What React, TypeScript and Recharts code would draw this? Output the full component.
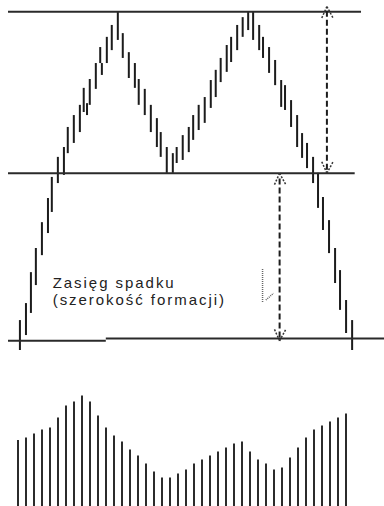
import React from 'react';
import { ComposedChart, BarChart, Bar, XAxis, YAxis, ReferenceLine, ReferenceDot } from 'recharts';

// time position of each price bar (trading sessions)
const priceTime = [0, 1.1, 2, 2.9, 4, 5.1, 5.8, 6.9, 8, 8.7, 9.8, 10.9, 11.6, 12.2, 12.7, 13.8, 14.6, 14.9, 15.8, 16.7, 17.8, 18.7, 19.8, 20.9, 21.6, 22.7, 23.8, 24.9, 25.6, 26.7, 27.8, 28.5, 29.6, 30.7, 31.5, 32.5, 33.6, 34.7, 35.6, 36.5, 37.6, 38.4, 39.5, 40.5, 41.5, 42.4, 43.5, 44.2, 45.3, 46.4, 47.5, 48.2, 49.3, 50.4, 51.3, 52.2, 53.3, 54.2, 55.1, 56.2, 57.3, 58.2, 59.3, 60.4];
const priceLow = [0, 4.4, 10.9, 19.1, 27.9, 34.4, 40.6, 49.1, 51.5, 57.9, 60.9, 64.1, 70.0, 69.1, 72.1, 76.8, 84.4, 80.9, 84.4, 88.2, 91.2, 85.9, 80.0, 77.1, 72.1, 69.1, 64.1, 59.7, 56.8, 52.1, 52.1, 55.0, 55.9, 58.2, 61.8, 64.7, 66.8, 71.2, 74.4, 78.8, 81.8, 84.7, 88.2, 92.1, 94.1, 91.2, 88.2, 85.9, 81.5, 77.9, 71.5, 70.6, 65.6, 59.7, 56.5, 53.5, 49.1, 41.8, 35.3, 28.5, 19.7, 11.8, 5.0, 0];
const priceHigh = [8.8, 13.8, 22.9, 30.0, 37.6, 44.7, 50.9, 56.8, 59.7, 65.6, 69.1, 72.1, 77.1, 72.6, 79.7, 84.4, 89.1, 84.4, 92.1, 95.6, 99.4, 93.2, 87.6, 84.4, 79.7, 76.8, 72.1, 68.2, 64.1, 59.7, 57.9, 59.7, 63.2, 65.6, 69.1, 72.1, 74.4, 79.4, 82.4, 85.9, 89.7, 92.1, 95.6, 97.9, 99.4, 99.4, 95.6, 92.1, 89.1, 85.3, 79.4, 77.9, 73.5, 69.1, 63.8, 60.9, 56.8, 52.1, 45.0, 38.2, 30.0, 23.5, 14.7, 8.8];

// volume histogram
const volume = [33, 34.2, 36.3, 38.2, 39.2, 44.2, 50.2, 52.2, 55.2, 52.2, 45.3, 39.2, 35.2, 32.2, 28.2, 25.2, 21.2, 17.2, 14.2, 14.2, 16.2, 18.2, 21.2, 23.2, 25.2, 27.2, 29.2, 31.2, 32.2, 27.2, 23.2, 21.2, 18.2, 19.2, 24.2, 29.2, 34.2, 38.2, 40.2, 42.2, 44.2, 46.2];

// horizontal levels: [level, startTime, endTime]
const resistance = [99.5, -2.18, 62];
const neckline = [52.0, -2.18, 60.85];
const supportLeft = [2.7, -2.18, 15.6];
const supportRight = [3.4, 15.6, 66.18];

// measuring arrows: [time, bottom level, top level]
const arrowTimes = [55.8, 47.2];
const arrowBottoms = [52.0, 2.7];
const arrowTops = [101.0, 52.0];

const caption = ['Zasięg spadku', '(szerokość formacji)'];
const captionAt = { t: 5.95, p: 18.2 };

const priceData = priceTime.map((t, i) => ({ t, range: [priceLow[i], priceHigh[i]] }));
const volumeData = volume.map((v, i) => ({ i, v }));

const INK = '#1c1c1c';
const LINE = '#2a2a2a';
const WING_T = 1.0;
const WING_P = 3.6;

const PriceBarShape = (props: any) => {
  const { x, y, width, height } = props;
  if (x == null || y == null) return null;
  const cx = x + (width || 0) / 2;
  const top = Math.min(y, y + height);
  const h = Math.abs(height);
  return <rect x={cx - 1} y={top} width={2} height={Math.max(h, 1)} fill={INK} />;
};

const levelLine = (lvl: number[], key: string) => (
  <ReferenceLine
    key={key}
    segment={[{ x: lvl[1], y: lvl[0] }, { x: lvl[2], y: lvl[0] }]}
    stroke={LINE}
    strokeWidth={2}
    ifOverflow="visible"
  />
);

const arrowParts = () => {
  const out: any[] = [];
  arrowTimes.forEach((t, i) => {
    const lo = arrowBottoms[i];
    const hi = arrowTops[i];
    out.push(
      <ReferenceLine
        key={`shaft${i}`}
        segment={[{ x: t, y: lo + 1 }, { x: t, y: hi - 1.2 }]}
        stroke={INK}
        strokeWidth={2}
        strokeDasharray="6 3"
        ifOverflow="visible"
      />
    );
    const wings = [
      [t, hi, t - WING_T, hi - WING_P],
      [t, hi, t + WING_T * 1.2, hi - WING_P],
      [t, lo, t - WING_T, lo + WING_P],
      [t, lo, t + WING_T * 1.2, lo + WING_P],
    ];
    wings.forEach((w, j) => {
      out.push(
        <ReferenceLine
          key={`wing${i}-${j}`}
          segment={[{ x: w[0], y: w[1] }, { x: w[2], y: w[3] }]}
          stroke="#333"
          strokeWidth={1.5}
          strokeDasharray="2 1.5"
          ifOverflow="visible"
        />
      );
    });
  });
  return out;
};

const captionLabel = (props: any) => {
  const vb = props && props.viewBox ? props.viewBox : { x: 0, y: 0 };
  const x = vb.x + (vb.width || 0) / 2;
  const y = vb.y + (vb.height || 0) / 2;
  return (
    <text
      x={x}
      y={y}
      fill="#222"
      fontFamily="'Liberation Sans', Arial, sans-serif"
      fontSize={15}
      letterSpacing={1.95}
    >
      <tspan x={x} y={y}>{caption[0]}</tspan>
      <tspan x={x} y={y + 17}>{caption[1]}</tspan>
    </text>
  );
};

export default function App() {
  return (
    <div style={{ position: 'absolute', left: 0, top: 0, width: 384, height: 506, background: '#fff', overflow: 'hidden' }}>
      <div style={{ position: 'absolute', left: 0, top: 0 }}>
        <ComposedChart width={384} height={352} data={priceData} margin={{ top: 0, right: 0, bottom: 2, left: 0 }}>
          <XAxis hide type="number" dataKey="t" domain={[-3.636, 66.18]} allowDataOverflow />
          <YAxis hide type="number" domain={[0, 102.94]} allowDataOverflow />
          {levelLine(resistance, 'res')}
          {levelLine(neckline, 'neck')}
          {levelLine(supportLeft, 'supL')}
          {levelLine(supportRight, 'supR')}
          <Bar dataKey="range" barSize={2} isAnimationActive={false} shape={PriceBarShape} />
          {arrowParts()}
          <ReferenceLine
            segment={[{ x: 44.1, y: 23.8 }, { x: 44.1, y: 13.8 }]}
            stroke="#666"
            strokeWidth={1.5}
            strokeDasharray="1 1"
            ifOverflow="visible"
          />
          <ReferenceLine
            segment={[{ x: 44.7, y: 14.7 }, { x: 46.1, y: 16.7 }]}
            stroke="#666"
            strokeWidth={1.5}
            strokeDasharray="1 1"
            ifOverflow="visible"
          />
          <ReferenceDot
            x={captionAt.t}
            y={captionAt.p}
            r={0}
            fill="none"
            stroke="none"
            ifOverflow="visible"
            label={captionLabel}
          />
        </ComposedChart>
      </div>
      <div style={{ position: 'absolute', left: 0, top: 386 }}>
        <BarChart width={384} height={120} data={volumeData} margin={{ top: 0, right: 34, bottom: 0, left: 14 }}>
          <XAxis hide dataKey="i" />
          <YAxis hide domain={[0, 60]} allowDataOverflow />
          <Bar dataKey="v" barSize={2} fill="#2b2b2b" isAnimationActive={false} />
        </BarChart>
      </div>
    </div>
  );
}
